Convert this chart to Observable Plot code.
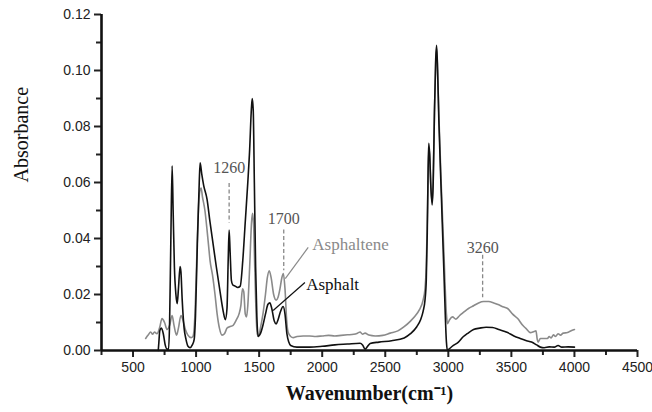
<!DOCTYPE html>
<html>
<head>
<meta charset="utf-8">
<script src="https://cdn.jsdelivr.net/npm/d3@7"></script>
<script src="https://cdn.jsdelivr.net/npm/@observablehq/plot@0.6"></script>
<style>
  html, body { margin: 0; padding: 0; background: #fff; }
</style>
</head>
<body>
<div id="chart"></div>
<script>
// ---- Data ----
const asphaltWn = [700, 705, 712, 725, 740, 755, 770, 782, 790, 800, 810, 818, 828, 840, 850, 860, 873, 880, 890, 905, 920, 936, 952, 970, 985, 995, 1010, 1025, 1032, 1045, 1060, 1087, 1110, 1135, 1160, 1190, 1215, 1232, 1245, 1255, 1262, 1270, 1280, 1290, 1310, 1330, 1350, 1370, 1390, 1410, 1425, 1437, 1445, 1453, 1462, 1472, 1482, 1492, 1510, 1530, 1550, 1570, 1585, 1600, 1620, 1635, 1650, 1670, 1690, 1705, 1720, 1735, 1750, 1800, 1900, 2000, 2100, 2200, 2300, 2320, 2340, 2360, 2380, 2450, 2550, 2650, 2700, 2750, 2780, 2800, 2815, 2825, 2833, 2840, 2845, 2852, 2862, 2872, 2880, 2890, 2900, 2907, 2915, 2925, 2945, 2965, 2985, 2992, 3000, 3040, 3080, 3120, 3150, 3200, 3250, 3300, 3350, 3400, 3470, 3520, 3570, 3620, 3660, 3700, 3730, 3760, 3800, 3840, 3870, 3900, 3950, 4000];
const asphaltAbs = [0.000, 0.003, 0.007, 0.008, 0.006, 0.002, 0.0005, 0.0005, 0.010, 0.040, 0.066, 0.050, 0.030, 0.020, 0.0167, 0.022, 0.030, 0.028, 0.018, 0.008, 0.004, 0.0015, 0.001, 0.002, 0.004, 0.012, 0.038, 0.060, 0.067, 0.063, 0.059, 0.054, 0.046, 0.038, 0.030, 0.021, 0.014, 0.011, 0.015, 0.033, 0.043, 0.035, 0.025, 0.0235, 0.023, 0.0225, 0.023, 0.032, 0.046, 0.060, 0.072, 0.085, 0.090, 0.086, 0.060, 0.030, 0.012, 0.005, 0.006, 0.009, 0.013, 0.0165, 0.017, 0.015, 0.0105, 0.0095, 0.011, 0.014, 0.0157, 0.013, 0.006, 0.003, 0.0018, 0.0012, 0.0012, 0.0015, 0.002, 0.0023, 0.0026, 0.002, 0.0005, 0.0015, 0.0025, 0.003, 0.0035, 0.0045, 0.006, 0.0085, 0.011, 0.014, 0.018, 0.025, 0.042, 0.065, 0.074, 0.070, 0.058, 0.052, 0.060, 0.085, 0.104, 0.109, 0.100, 0.082, 0.055, 0.028, 0.003, 0.000, 0.0003, 0.0018, 0.003, 0.005, 0.006, 0.0075, 0.008, 0.0083, 0.0082, 0.0075, 0.0064, 0.0052, 0.0043, 0.0035, 0.003, 0.002, 0.0012, 0.001, 0.0013, 0.0012, 0.0018, 0.0012, 0.0013, 0.0012];

const asphalteneWn = [600, 620, 640, 655, 670, 690, 710, 730, 750, 770, 790, 810, 825, 845, 860, 880, 895, 915, 935, 960, 975, 990, 1000, 1010, 1020, 1030, 1040, 1050, 1070, 1087, 1100, 1111, 1130, 1150, 1167, 1185, 1206, 1225, 1246, 1265, 1294, 1320, 1340, 1355, 1368, 1378, 1390, 1400, 1410, 1425, 1440, 1448, 1456, 1465, 1475, 1485, 1495, 1510, 1530, 1550, 1565, 1580, 1595, 1615, 1635, 1650, 1665, 1680, 1692, 1705, 1718, 1730, 1750, 1770, 1800, 1850, 1900, 1950, 2000, 2050, 2100, 2150, 2200, 2250, 2280, 2300, 2320, 2340, 2370, 2420, 2480, 2540, 2600, 2650, 2700, 2740, 2770, 2800, 2815, 2825, 2835, 2845, 2852, 2862, 2872, 2880, 2890, 2900, 2907, 2915, 2925, 2945, 2965, 2985, 2993, 3010, 3033, 3060, 3090, 3120, 3160, 3200, 3240, 3280, 3320, 3360, 3400, 3440, 3470, 3510, 3550, 3590, 3615, 3650, 3680, 3695, 3705, 3712, 3730, 3760, 3786, 3800, 3815, 3834, 3850, 3870, 3890, 3910, 3945, 3970, 4000];
const asphalteneAbs = [0.0043, 0.0055, 0.0066, 0.0058, 0.0066, 0.006, 0.008, 0.0114, 0.010, 0.0075, 0.009, 0.0125, 0.009, 0.0055, 0.008, 0.0125, 0.011, 0.0075, 0.0055, 0.0046, 0.005, 0.012, 0.025, 0.040, 0.052, 0.057, 0.058, 0.055, 0.050, 0.043, 0.037, 0.032, 0.027, 0.020, 0.013, 0.008, 0.0055, 0.006, 0.008, 0.0085, 0.009, 0.011, 0.013, 0.016, 0.022, 0.021, 0.013, 0.012, 0.016, 0.030, 0.046, 0.049, 0.045, 0.030, 0.014, 0.006, 0.005, 0.008, 0.013, 0.020, 0.026, 0.0285, 0.026, 0.020, 0.018, 0.019, 0.022, 0.026, 0.0275, 0.022, 0.011, 0.0065, 0.005, 0.0046, 0.005, 0.0052, 0.0052, 0.005, 0.0052, 0.0054, 0.0052, 0.0054, 0.0056, 0.0058, 0.0062, 0.0066, 0.0058, 0.0062, 0.0055, 0.0052, 0.0054, 0.0062, 0.007, 0.0085, 0.0105, 0.0125, 0.0145, 0.018, 0.022, 0.030, 0.050, 0.072, 0.070, 0.058, 0.053, 0.060, 0.085, 0.103, 0.108, 0.100, 0.084, 0.058, 0.035, 0.013, 0.0096, 0.011, 0.012, 0.0112, 0.0125, 0.0136, 0.015, 0.016, 0.017, 0.0175, 0.0175, 0.017, 0.0163, 0.0155, 0.015, 0.013, 0.0114, 0.009, 0.0079, 0.0064, 0.0068, 0.007, 0.004, 0.003, 0.0043, 0.0043, 0.0043, 0.005, 0.0045, 0.0056, 0.005, 0.006, 0.0055, 0.0062, 0.0064, 0.007, 0.0075];

const xTicks = [500, 1000, 1500, 2000, 2500, 3000, 3500, 4000, 4500];
const xMinorTicks = [250, 750, 1250, 1750, 2250, 2750, 3250, 3750, 4250];
const yTicks = [0, 0.02, 0.04, 0.06, 0.08, 0.10, 0.12];
const yMinorTicks = [0.01, 0.03, 0.05, 0.07, 0.09, 0.11];

const peakLabels = ["1260", "1700", "3260"];
const peakWn = [1262, 1695, 3272];
const peakTop = [0.0596, 0.043, 0.034];
const peakBottom = [0.0455, 0.0285, 0.0188];
const peakLabelY = [0.0654, 0.047, 0.0368];

const seriesNames = ["Asphaltene", "Asphalt"];
const seriesColors = ["#8a8a8a", "#111111"];
const nameWn = [1921, 1873];
const nameY = [0.0379, 0.0236];
const leaderFromWn = [1889, 1863];
const leaderFromY = [0.0368, 0.0243];
const leaderToWn = [1707, 1611];
const leaderToY = [0.0257, 0.0143];

// ---- Build tables ----
const asphalt = asphaltWn.map((w, i) => ({wn: w, abs: asphaltAbs[i]}));
const asphaltene = asphalteneWn.map((w, i) => ({wn: w, abs: asphalteneAbs[i]}));
const peaks = peakLabels.map((l, i) => ({label: l, wn: peakWn[i], top: peakTop[i], bottom: peakBottom[i], ly: peakLabelY[i]}));
const names = seriesNames.map((n, i) => ({name: n, color: seriesColors[i], wn: nameWn[i], y: nameY[i],
  x1: leaderFromWn[i], y1: leaderFromY[i], x2: leaderToWn[i], y2: leaderToY[i]}));

const serif = "'Liberation Serif', 'Times New Roman', serif";
const sans = "'Liberation Sans', Arial, sans-serif";

const chart = Plot.plot({
  width: 652,
  height: 412,
  marginTop: 14,
  marginBottom: 62,
  marginLeft: 101,
  marginRight: 15,
  style: {fontFamily: sans, fontSize: "14px", color: "#222", background: "#fff"},
  x: {domain: [250, 4500]},
  y: {domain: [0, 0.12]},
  marks: [
    Plot.line(asphaltene, {x: "wn", y: "abs", stroke: seriesColors[0], strokeWidth: 1.6, curve: "monotone-x"}),
    Plot.line(asphalt, {x: "wn", y: "abs", stroke: seriesColors[1], strokeWidth: 1.6, curve: "monotone-x"}),
    Plot.ruleX(peaks, {x: "wn", y1: "top", y2: "bottom", stroke: "#888", strokeWidth: 1.3, strokeDasharray: "4,2.5"}),
    Plot.text(peaks, {x: "wn", y: "ly", text: "label", fontFamily: serif, fontSize: 16, fill: "#555"}),
    Plot.link(names, {x1: "x1", y1: "y1", x2: "x2", y2: "y2", stroke: "color", strokeWidth: 1.2}),
    Plot.text(names, {x: "wn", y: "y", text: "name", fill: "color", fontFamily: serif, fontSize: 17, textAnchor: "start"}),
    Plot.axisX(xTicks, {tickSize: 7, tickPadding: 5, strokeWidth: 2, tickFormat: d => String(d), label: null, fontSize: 14}),
    Plot.axisX(xMinorTicks, {tickSize: 5, strokeWidth: 2, tickFormat: () => "", label: null}),
    Plot.axisY(yTicks, {tickSize: 7, tickPadding: 4, strokeWidth: 2, tickFormat: d3.format(".2f"), label: null, fontSize: 14}),
    Plot.axisY(yMinorTicks, {tickSize: 5, strokeWidth: 2, tickFormat: () => "", label: null}),
    Plot.ruleY([0], {x1: 250, x2: 4500, stroke: "#111", strokeWidth: 2.6}),
    Plot.ruleX([250], {y1: 0, y2: 0.12, stroke: "#111", strokeWidth: 2.6}),
    Plot.text(["Absorbance"], {frameAnchor: "left", dx: -80, rotate: -90, fontFamily: serif, fontSize: 20, fill: "#111"}),
    Plot.text(["Wavenumber(cm⁻¹)"], {frameAnchor: "bottom", dy: 49, fontFamily: serif, fontSize: 20, fontWeight: "bold", fill: "#111"})
  ]
});
document.getElementById("chart").appendChild(chart);
</script>
</body>
</html>
